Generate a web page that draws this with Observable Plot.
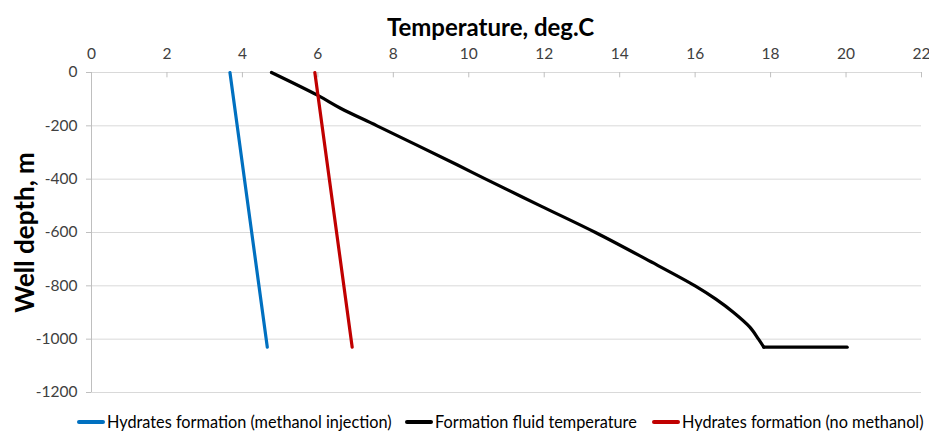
<!DOCTYPE html>
<html>
<head>
<meta charset="utf-8">
<script src="https://cdn.jsdelivr.net/npm/d3@7"></script>
<script src="https://cdn.jsdelivr.net/npm/@observablehq/plot@0.6"></script>
<style>
  html, body { margin: 0; padding: 0; background: #fff; }
  #wrap { position: relative; width: 929px; height: 434px; font-family: Lato, "Open Sans", sans-serif; }
  .item { position: absolute; top: 412px; display: flex; align-items: center; font-size: 16.3px; color: #000; white-space: nowrap; }
  .sw { width: 28px; height: 4px; margin-right: 2px; border-radius: 2px; }
</style>
</head>
<body>
<div id="wrap"></div>
<script>
// Formation fluid temperature profile (black)
const fluidDepth = [0, -86, -134, -200, -346, -400, -500, -600, -700, -800, -850, -900, -955, -1000, -1030, -1030];
const fluidTemp  = [4.77, 6.0, 6.6, 7.57, 9.69, 10.45, 11.9, 13.36, 14.7, 16.0, 16.55, 17.02, 17.45, 17.68, 17.82, 20.03];
// Hydrates formation curves
const hydrateDepth = [0, -1030];
const methanolTemp = [3.67, 4.66];   // with methanol injection (blue)
const noMethanolTemp = [5.92, 6.91]; // no methanol (red)

const xTicks = [0, 2, 4, 6, 8, 10, 12, 14, 16, 18, 20, 22];
const yTicks = [0, -200, -400, -600, -800, -1000, -1200];

const seriesNames = ["Hydrates formation (methanol injection)", "Formation fluid temperature", "Hydrates formation (no methanol)"];
const seriesColors = ["#0070C0", "#000000", "#C00000"];

const fluid = fluidDepth.map((d, i) => ({depth: d, temp: fluidTemp[i]}));
const fluidCurve = fluid.slice(0, -1);
const fluidFlat = fluid.slice(-2);
const blue = hydrateDepth.map((d, i) => ({depth: d, temp: methanolTemp[i]}));
const red = hydrateDepth.map((d, i) => ({depth: d, temp: noMethanolTemp[i]}));

const chart = Plot.plot({
  width: 929,
  height: 406,
  marginTop: 72,
  marginLeft: 91,
  marginRight: 8,
  marginBottom: 14,
  style: {fontFamily: "Lato, 'Open Sans', sans-serif", fontSize: "15.5px", color: "#404040", background: "#fff"},
  x: {domain: [0, 22]},
  y: {domain: [-1200, 0]},
  marks: [
    Plot.gridY(yTicks, {stroke: "#d9d9d9", strokeOpacity: 1, strokeWidth: 1}),
    Plot.ruleX([0], {stroke: "#bfbfbf", strokeWidth: 1}),
    Plot.ruleX(xTicks, {x: d => d, y1: 0, y2: -20, stroke: "#bfbfbf"}),
    Plot.axisX(xTicks, {anchor: "top", tickSize: 0, tickPadding: 14, label: null, tickFormat: d => String(d), fill: "#404040"}),
    Plot.axisY(yTicks, {anchor: "left", tickSize: 5, tickPadding: 9, stroke: "#bfbfbf", label: null, tickFormat: d => String(d), fill: "#404040"}),
    Plot.line(blue, {x: "temp", y: "depth", stroke: seriesColors[0], strokeWidth: 3.2, strokeLinecap: "round"}),
    Plot.line(fluidCurve, {x: "temp", y: "depth", stroke: seriesColors[1], strokeWidth: 3.2, strokeLinecap: "round", strokeLinejoin: "round", curve: "catmull-rom"}),
    Plot.line(fluidFlat, {x: "temp", y: "depth", stroke: seriesColors[1], strokeWidth: 3.2, strokeLinecap: "round"}),
    Plot.line(red, {x: "temp", y: "depth", stroke: seriesColors[2], strokeWidth: 3.2, strokeLinecap: "round"}),
    Plot.text(["Temperature, deg.C"], {frameAnchor: "top", dx: -16, dy: -54, fontSize: 24, fontWeight: "bold", fill: "#000"}),
    Plot.text(["Well depth, m"], {frameAnchor: "left", textAnchor: "middle", rotate: -90, dx: -66, fontSize: 26, fontWeight: "bold", fill: "#000"})
  ]
});

const wrap = document.getElementById("wrap");
wrap.appendChild(chart);

const lefts = [77, 405, 652];
seriesNames.forEach((name, i) => {
  const it = document.createElement("div");
  it.className = "item";
  it.style.left = lefts[i] + "px";
  const sw = document.createElement("span");
  sw.className = "sw";
  sw.style.background = seriesColors[i];
  const tx = document.createElement("span");
  tx.textContent = name;
  it.appendChild(sw);
  it.appendChild(tx);
  wrap.appendChild(it);
});
</script>
</body>
</html>
